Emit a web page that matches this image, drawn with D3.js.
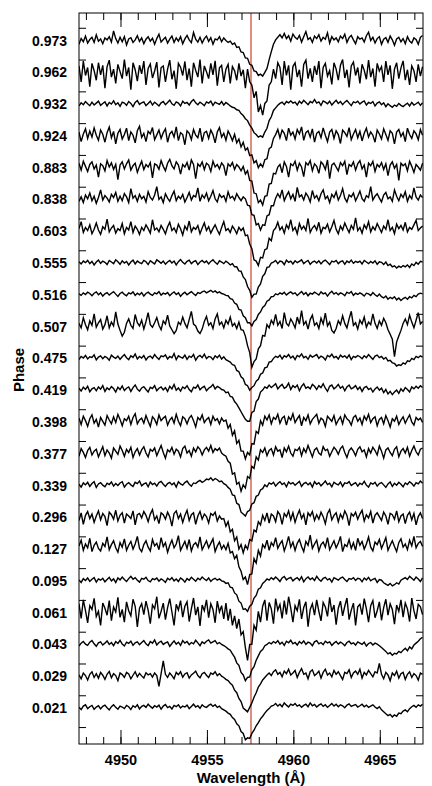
<!DOCTYPE html>
<html>
<head>
<meta charset="utf-8">
<script src="https://cdn.jsdelivr.net/npm/d3@7"></script>
<style>
	body{margin:0;background:#fff;}
	svg{display:block;font-family:"Liberation Sans",Arial,sans-serif;font-weight:bold;}
</style>
</head>
<body>
<div id="chart"></div>
<script>
// phases, top to bottom
var phases = ["0.973","0.962","0.932","0.924","0.883","0.838","0.603","0.555","0.516","0.507","0.475",
	"0.419","0.398","0.377","0.339","0.296","0.127","0.095","0.061","0.043","0.029","0.021"];

// spectra sampled from 4947.6 A every 0.125 A, flux minus continuum in units of 0.001
var waveStart = 4947.6, waveStep = 0.125;
var restWave = 4957.55;
var offsetStep = 0.1;
var xTicks = [4950,4955,4960,4965];

var f0973 = [-12,6,-4,14,-8,3,10,-6,18,-2, 5,-10,8,2,12,-5,30,6,-8,10, -4,12,-14,5,9,-6,2,15,-3,8,
	-10,4,12,-2,7,-12,6,20,-5,3, 10,-8,4,14,-6,8,-2,12,-10,5, 16,2,-7,25,4,-5,10,-8,6,14,
	-3,9,-12,5,2,12,-4,8,0,-6, -2,-12,-8,-22,-20,-36,-38,-55,-56,-75, -78,-96,-98,-110,-106,-112,-100,-88,-60,-35,
	-12,2,10,18,8,22,6,15,-2,20, 10,4,16,-5,12,28,3,9,-6,14, 6,18,-2,10,4,24,-8,12,2,8,
	-4,14,6,20,-6,9,16,2,-10,12, 4,8,-5,15,26,0,10,-8,6,12, -12,4,9,-6,14,2,-15,5,10,-4, 6,-10,12,-2,-8,8,3,-12,10,16];
var f0962 = [20,-30,35,-10,15,-45,28,5,-25,30, -8,22,-50,18,38,-15,10,-35,25,2, -20,40,-12,15,-55,30,8,-28,22,-5,
	35,-40,12,26,-18,4,32,-48,15,20, -30,10,38,-22,5,-52,28,16,-10,34, -25,12,-45,30,6,-15,40,-35,20,2,
	-20,28,-8,36,-42,14,22,-30,10,25, -35,18,5,-25,28,-12,8,-50,10,-30, -40,-80,-60,-125,-105,-135,-98,-90,-40,-30,
	10,-20,30,15,-40,35,-10,22,-55,18, 30,-15,8,-45,25,38,-20,12,-30,20, -8,35,-50,15,28,-12,5,-38,30,10,
	-25,22,40,-18,8,-48,20,32,-10,15, -35,25,6,-22,38,-15,12,-45,28,4, 18,-30,35,-8,22,-52,10,30,-20,14, 36,-25,8,-40,20,5,-30,25,-12,18];
var f0932 = [-6,4,-2,8,1,-5,6,-3,3,9, -4,2,7,-6,5,0,10,-2,4,-7, 6,3,-4,8,2,-8,5,11,-1,4,
	7,-5,2,9,-3,6,0,-6,4,8, -2,5,12,1,-4,7,3,-6,9,2, 5,-3,8,14,4,-2,6,1,-5,7,
	3,9,-4,6,2,-1,8,-3,5,0, -6,-10,-12,-18,-20,-30,-36,-46,-52,-66, -76,-90,-96,-104,-100,-104,-88,-76,-52,-40,
	-20,-12,-4,2,6,-2,8,4,10,3, 6,-3,9,2,12,5,-2,8,4,14, 3,7,-4,10,6,1,9,-3,5,12,
	2,8,-2,6,11,3,-5,7,4,9, 0,6,10,-3,5,2,8,-6,3,7, -2,4,-8,1,-5,-10,-3,-7,2,-4, -8,-2,3,-6,5,-3,1,6,-4,4];
var f0924 = [12,-18,6,22,-8,15,-4,25,2,-14, 18,5,-20,10,28,-6,14,-25,8,20, -10,4,24,-15,12,2,-22,16,30,-5,
	8,-18,14,6,26,-12,3,18,-8,10, 22,-20,6,14,-4,28,-15,10,4,-28, 16,8,-12,20,2,-6,24,-18,10,14,
	-8,18,4,-22,12,26,-4,8,-14,15, 2,-15,5,-22,-10,-35,-20,-45,-38,-62, -60,-85,-78,-100,-88,-98,-75,-72,-40,-35,
	-8,4,20,-6,18,8,-15,24,2,12, -10,20,6,28,-14,10,16,-4,22,-20, 8,14,-6,25,2,-18,12,20,-8,16,
	4,-24,18,10,-2,26,-12,6,20,-6, 14,-16,8,24,-4,12,2,-20,18,6, -10,22,4,-14,16,8,-25,12,20,-2, 10,-18,24,4,-8,16,6,-12,20,2];
var f0883 = [14,-8,20,4,-12,10,18,-4,8,-30, 12,6,-10,22,2,15,-6,10,-38,8, 18,-4,12,24,-8,6,14,-15,4,20,
	-6,10,2,16,-32,12,8,-5,22,4, -10,14,26,6,-4,18,8,-20,10,2, 16,-8,24,10,-35,12,4,18,-6,14,
	8,-12,20,2,10,-4,15,6,-25,12, 4,16,-6,10,2,-10,4,-20,-10,-40, -42,-80,-82,-110,-102,-118,-90,-88,-52,-50,
	-18,-20,2,10,-16,18,4,-30,12,6, 20,-8,14,2,-28,16,8,22,-10,12, 4,-18,18,10,-6,24,-35,8,14,2,
	-10,16,6,20,-22,10,4,18,-8,12, 22,-4,8,-30,14,6,20,-12,10,2, 16,-6,12,-25,8,18,-2,10,-40,14, 6,12,-10,20,4,-15,10,2,-8,14];
var f0838 = [-6,8,-10,14,2,20,-4,10,-12,6, 30,-2,12,4,-8,16,6,22,-6,10, -4,18,8,-10,34,4,12,-6,16,2,
	10,-8,24,6,-2,14,40,0,8,-10, 18,4,-6,12,26,-4,10,2,16,-8, 6,22,-2,12,8,36,-6,14,4,20,
	-4,10,28,2,-8,16,6,12,-6,24, 4,10,-2,18,6,-4,8,2,-18,-20, -48,-50,-80,-76,-96,-80,-82,-52,-48,-20,
	-20,4,18,6,30,-4,12,24,2,16, -6,38,8,14,-2,20,10,-8,28,4, 12,-4,18,30,2,10,-10,16,6,24,
	-2,12,34,4,-8,14,8,20,-4,10, 26,2,-6,12,6,40,-2,10,18,4, -8,14,22,2,8,-6,30,10,-4,16, 6,24,-6,12,2,36,8,-2,14,6];
var f0603 = [8,30,-4,12,2,20,-8,6,26,4, -10,14,6,38,-2,10,18,-6,8,2, 24,-8,12,4,30,-4,16,6,-10,12,
	2,20,8,-6,36,4,10,-2,18,6, -8,14,28,2,10,-4,22,8,-12,16, 4,32,-2,12,6,18,-8,10,26,2,
	14,-6,8,20,4,-10,12,30,2,8, -4,16,6,-8,12,2,10,-14,-12,-40, -55,-90,-94,-108,-82,-84,-58,-55,-22,-30,
	2,10,28,4,14,-6,20,8,36,2, 12,-8,24,6,16,2,40,-4,10,18, 4,28,-6,12,8,22,-2,14,34,6,
	-8,16,4,26,10,-4,18,6,42,2, 12,-6,20,8,30,-2,14,4,24,10, -4,16,6,36,2,12,-8,22,8,18, 4,28,-2,12,6,20,34,2,10,16];
var f0555 = [4,-3,6,1,8,-2,5,-6,3,9, -1,6,2,-5,8,3,-2,10,4,-4, 7,0,5,-6,3,9,-3,6,1,-2,
	8,4,-5,7,2,-3,10,5,-1,6, -4,3,8,0,6,-6,4,11,2,-3, 5,9,-2,4,7,-5,3,8,1,6,
	-3,5,10,2,-4,7,3,-2,6,1, -6,-2,-12,-12,-25,-26,-44,-52,-74,-86, -108,-98,-98,-76,-66,-42,-34,-14,-12,0,
	3,8,-2,6,4,-5,9,2,6,-3, 7,1,5,10,-2,4,8,-4,3,6, 0,7,-3,5,9,2,-5,6,3,8,
	-2,4,7,-4,6,1,9,-1,5,2, 6,-3,8,3,-2,5,0,7,-4,4, 2,-5,3,-8,-4,-12,-9,-16,-10,-14, -8,-12,-6,-14,-3,-8,2,-4,5,3];
var f0516 = [3,-2,6,1,8,4,-3,5,9,0, 6,-4,3,7,-1,5,10,2,-5,4, 8,1,-3,6,3,9,-2,5,0,7,
	-4,4,8,2,-2,6,3,10,-1,5, 2,7,-3,4,9,1,6,-5,3,8, 0,5,10,3,-2,7,4,9,12,6,
	10,14,8,12,6,9,4,2,-2,-3, -12,-14,-26,-30,-46,-48,-66,-72,-88,-88, -98,-84,-78,-62,-54,-40,-34,-20,-16,-6,
	-5,3,0,6,2,8,-1,5,9,3, 6,-2,4,10,1,7,-3,5,2,8, 4,-1,9,3,6,-4,5,11,2,7,
	0,6,3,-3,8,4,10,-2,5,1, 6,2,-4,5,3,-2,7,0,-5,2, -6,-10,-4,-14,-8,-12,-6,-16,-10,-18, -12,-8,-14,-6,-10,-2,-6,2,5,3];
var f0507 = [10,-4,28,6,-10,18,4,40,-2,12, 22,-8,6,34,-4,14,2,46,8,-12, -30,-18,10,24,4,-6,38,12,2,20,
	-8,16,44,6,-2,12,28,4,-10,18, 8,36,2,-10,-22,-12,14,6,30,10, -4,22,48,8,2,-14,-22,-8,16,32,
	4,12,-6,24,40,6,14,-4,20,8, 30,2,10,-6,14,-10,-12,-30,-60,-82, -128,-110,-102,-70,-60,-28,-30,6,-4,20,
	8,38,4,16,-6,44,10,2,24,12, -4,30,8,50,6,16,-8,22,36,4, 12,-6,26,8,42,2,14,-12,-20,-6,
	18,6,34,10,-4,24,48,4,12,-8, 20,8,30,-2,14,6,40,10,-6,18, 4,26,12,-10,-24,-40,-95,-48,-30,-12, 10,24,6,36,14,-4,20,44,8,16];
var f0475 = [-4,6,1,9,-2,5,3,11,-5,4, 8,-1,6,2,-6,10,4,0,7,-3, 5,12,2,-4,8,3,14,-2,6,1,
	9,-5,4,7,0,12,3,-3,8,5, 11,-2,6,2,15,-4,8,4,1,10, -3,7,3,12,-6,5,9,2,13,-1,
	6,4,-4,8,2,10,-2,5,-4,-8, -12,-20,-22,-38,-42,-58,-64,-82,-86,-100, -92,-86,-72,-66,-50,-46,-30,-28,-12,-10,
	0,6,3,10,-2,8,4,12,1,7, -4,9,5,14,2,6,-3,10,4,8, 12,0,7,3,-5,9,5,13,2,6,
	-2,10,4,8,1,11,-4,6,3,9, 5,-1,8,2,12,4,-3,7,10,2, 6,-2,3,-8,-6,-14,-16,-24,-20,-22, -14,-18,-8,-10,0,-4,6,2,8,4];
var f0419 = [6,-3,9,2,12,-5,4,8,-2,10, 3,14,-4,7,1,11,5,-6,9,2, 13,-1,6,10,-4,8,16,3,-3,7,
	11,2,-6,9,5,14,-2,6,10,1, 8,-4,12,4,18,0,7,-3,10,5, 14,2,-5,9,6,16,1,8,12,-2,
	6,10,18,4,12,8,2,0,-8,-6, -20,-22,-36,-44,-56,-68,-80,-92,-98,-98, -70,-66,-36,-28,-6,0,10,6,16,8,
	14,20,4,12,18,6,10,22,2,14, 8,16,-2,12,20,6,10,4,18,12, 2,14,8,20,6,-4,12,16,4,10,
	18,6,12,-2,10,16,4,8,14,2, 10,-4,8,12,2,6,-6,4,10,0, 6,-8,2,-12,-4,-14,-6,0,-10,4, -4,8,2,-6,10,4,12,6,14,8];
var f0398 = [12,-8,18,4,-14,10,22,-4,8,-16, 14,2,-10,20,6,-6,16,-2,24,8, -12,10,4,18,-8,14,26,-6,6,12,
	-4,20,2,-14,16,8,-8,22,4,12, 18,-10,6,14,-4,24,2,-12,16,10, -6,12,20,4,-16,14,6,22,-2,8,
	14,-8,18,4,10,-6,12,2,6,-20, -8,-42,-28,-68,-58,-92,-92,-116,-96,-104, -68,-70,-30,-36,4,-10,18,6,22,-6,
	14,8,24,-4,12,18,-10,16,6,26, -2,10,20,-12,14,4,22,-6,8,16, 24,-4,12,6,-14,18,10,2,20,-8,
	6,16,-6,22,10,4,-10,14,20,2, 12,-8,18,6,24,-2,10,16,-12,8, 14,-6,20,4,-16,10,2,18,-8,6, 16,-4,10,22,0,-10,14,6,12,-2];
var f0377 = [-8,16,4,-12,10,20,-4,8,14,-10, 6,22,-6,12,2,-14,18,8,-2,24, 10,-8,14,4,20,-12,6,16,-4,12,
	22,2,-10,14,8,18,-6,10,26,4, -14,12,6,20,-2,14,8,-10,16,24, 2,10,-8,18,6,22,14,-4,12,20,
	8,26,4,16,10,18,2,-4,-8,-24, -30,-64,-60,-96,-90,-118,-98,-108,-72,-78, -40,-46,-10,-20,12,4,18,-6,10,16,
	-4,22,8,12,-12,18,6,24,2,-8, 14,10,20,-6,16,4,26,8,-10,12, 18,2,-4,22,10,14,-8,6,20,12,
	-2,16,24,4,-12,10,18,8,-6,14, 22,6,12,-10,16,2,20,10,-4,24, 8,-14,12,18,4,-6,14,22,-10,8, 16,2,20,-8,10,24,6,-4,14,18];
var f0339 = [4,-5,8,2,10,-3,6,12,-6,5, 9,1,-4,7,3,11,-2,6,0,8, 12,-5,4,9,2,-3,10,6,14,-1,
	5,8,-4,11,3,7,-2,9,13,4, -3,6,10,2,8,-5,12,5,1,9, 14,4,-2,8,6,12,16,10,14,20,
	18,24,16,22,18,12,14,6,2,-6, -12,-30,-32,-56,-60,-84,-90,-96,-82,-78, -58,-54,-34,-30,-14,-10,2,-4,8,4,
	10,-2,6,12,3,8,-4,11,5,9, 1,7,13,-3,6,10,2,8,-5,12, 4,9,-1,6,14,3,7,-4,10,5,
	2,11,-3,8,6,12,0,5,9,-2, 7,3,13,1,-5,8,4,10,-2,6, 9,2,-6,5,11,-3,7,1,10,4, -4,8,3,12,6,-2,9,5,14,7];
var f0296 = [-10,14,-22,6,18,-4,10,-16,4,20, -8,12,2,-26,16,8,-6,22,-12,6, 14,-18,10,4,-4,20,-24,8,12,-2,
	18,6,-14,10,24,-8,4,-20,14,8, -6,16,2,-28,12,20,-4,10,-16,6, 22,-10,8,14,-22,4,18,-6,10,2,
	-18,12,6,16,-12,4,-6,-4,-28,-14, -46,-38,-74,-62,-100,-86,-112,-88,-100,-70, -74,-40,-46,-14,-24,6,-10,14,-18,10,
	4,-14,18,8,-22,12,2,20,-8,14, -16,6,22,-4,10,-24,14,4,18,-10, 8,-6,16,2,-20,12,24,-8,6,14,
	-14,10,-4,20,6,-26,12,4,16,-6, 10,22,-12,8,-2,18,-18,6,14,2, -10,16,4,-22,12,8,-6,20,-14,4, 10,-20,6,16,-8,12,-24,2,14,-4];
var f0127 = [10,28,-4,16,4,34,-8,12,22,2, -6,18,8,38,-2,14,26,4,-10,20, 6,32,-4,12,24,0,16,40,2,-8,
	14,26,6,-6,30,10,18,-2,36,8, 20,-10,12,28,4,16,42,-4,10,24, 2,30,-6,14,20,6,38,-2,12,26,
	4,18,32,-8,10,22,0,12,-2,18, -12,-8,-30,-20,-56,-70,-96,-88,-112,-80, -78,-30,-44,-4,-22,14,4,28,-4,20,
	10,36,2,16,26,-6,14,40,6,22, -4,18,30,8,-8,24,12,44,2,16, 28,-6,14,22,6,36,-2,12,26,4,
	18,40,-8,14,8,30,2,20,-4,34, 12,24,0,16,38,6,-6,22,14,30, 2,18,36,-4,12,26,8,-8,20,32, 6,16,-2,28,10,40,4,18,24,8];
var f0095 = [3,-5,7,1,9,-2,5,10,-4,6, 2,8,-3,4,11,0,6,-5,9,3, 12,4,-2,7,14,5,10,2,-4,8,
	5,11,1,-3,7,4,9,-1,6,2, -5,8,3,10,0,6,-2,9,4,-4, 7,2,11,5,-1,8,3,12,6,1,
	9,-2,5,8,2,6,0,-2,-8,-6, -20,-22,-38,-44,-64,-70,-90,-88,-96,-80, -74,-54,-46,-26,-22,-8,-2,6,2,10,
	4,12,6,-2,9,14,3,8,11,0, 6,10,2,13,-3,7,12,4,9,1, 14,5,-1,8,11,3,7,-4,10,6,
	2,9,12,4,-2,7,5,10,1,8, 6,-3,9,3,11,0,5,8,-5,4, 2,-6,-10,-14,-8,-16,-12,-6,-10,2, 6,10,4,14,8,2,12,6,-2,9];
var f0061 = [28,-18,40,6,-32,22,10,45,-12,4, -40,30,14,-8,38,-25,18,2,48,-15, 10,-30,34,6,-10,42,20,-45,14,28,
	-6,36,8,-35,24,12,50,-18,4,30, -22,16,44,2,-40,26,8,38,-14,20, 34,-28,12,46,-8,18,-42,24,6,40,
	-16,28,10,-32,36,2,22,-20,30,-25, 12,-40,-10,-50,-20,-70,-60,-110,-150,-100, -100,-40,-55,4,-30,20,40,-25,32,12,
	-35,44,8,26,-18,38,-6,50,14,-30, 22,6,42,-20,16,34,-44,10,28,-8, 40,4,-26,32,18,-12,48,2,24,-38,
	14,36,-10,20,46,-22,8,30,-40,18, 26,-6,44,12,-30,22,38,-16,6,34, -24,16,42,-8,28,10,-36,24,4,40, -14,30,12,-28,46,6,-20,26,18,-6];
var f0043 = [-5,4,9,1,-3,7,12,2,-6,5, 8,-2,4,11,0,6,-4,9,3,13, 1,-5,7,3,10,-3,5,8,-1,6,
	12,2,-4,9,4,14,-2,6,10,0, 5,8,-6,3,11,1,7,-3,12,4, 9,-1,6,2,13,5,-4,8,3,10,
	14,4,8,12,2,6,0,-4,-8,-14, -18,-30,-40,-58,-66,-88,-96,-114,-104,-102, -80,-70,-50,-36,-22,-16,-4,0,6,2,
	9,4,12,1,7,-3,10,5,13,2, 6,-2,9,3,11,0,7,4,-4,8, 12,2,6,-1,10,5,8,-3,4,9,
	1,7,3,-4,6,10,2,5,-2,8, 4,0,7,-5,3,6,-2,4,1,-4, -10,-16,-22,-30,-26,-34,-28,-30,-22,-26, -18,-12,-20,-8,-14,-2,4,10,18,22];
var f0029 = [4,-8,10,2,-12,6,14,-4,8,-6, 12,3,-10,6,15,-5,8,2,-14,10, 5,-4,12,7,-8,3,14,-2,9,1,
	-6,11,4,8,-3,10,2,-32,8,48, 6,-4,10,2,-8,12,5,14,-3,7, 11,-6,4,9,16,2,-5,8,12,3,
	-4,10,6,14,2,8,0,-4,-10,-14, -22,-28,-44,-52,-70,-80,-100,-106,-112,-98, -84,-66,-52,-34,-24,-12,-4,4,10,2,
	14,20,6,12,-2,16,8,22,4,10, 18,-4,12,24,6,10,-8,14,20,2, 8,16,-6,12,22,4,10,-2,18,6,
	14,2,-10,12,8,20,-4,10,16,6, 22,-6,12,4,18,8,-2,14,10,40, 6,-8,12,4,-14,10,2,16,-6,8, 12,-10,6,14,-4,8,2,-12,10,6];
var f0021 = [2,-5,6,10,-2,4,8,-4,3,7, -3,5,9,1,-6,4,10,2,-4,6, 3,-2,8,4,-5,7,2,10,-3,5,
	8,2,12,5,-1,7,3,9,-4,6, 11,1,5,-3,8,4,10,0,6,3, 9,-2,5,12,3,7,-1,10,4,2,
	8,12,5,10,2,6,-2,-6,-10,-16, -20,-30,-36,-50,-56,-74,-80,-100,-94,-96, -80,-70,-56,-46,-34,-26,-16,-8,-2,6,
	8,14,6,12,4,16,9,3,12,8, 14,6,10,2,8,12,4,16,7,11, 3,9,13,5,10,2,8,14,6,12,
	4,10,7,1,9,13,5,8,11,3, 7,12,4,9,2,6,10,3,-2,4, -6,-12,-18,-24,-20,-28,-22,-26,-16,-18, -10,-6,-12,-2,4,8,2,10,6,12];

var spectra = [f0973,f0962,f0932,f0924,f0883,f0838,f0603,f0555,f0516,f0507,f0475,
	f0419,f0398,f0377,f0339,f0296,f0127,f0095,f0061,f0043,f0029,f0021];

var width = 432, height = 786;
var pLeft = 79, pRight = 423, pTop = 13, pBottom = 744;

var svg = d3.select("#chart").append("svg")
	.attr("width", width)
	.attr("height", height);

var x = d3.scaleLinear().domain([4947.6, 4967.5]).range([pLeft, pRight]);
var y = d3.scaleLinear().domain([0.8867, 3.1865]).range([pBottom, pTop]);

svg.append("clipPath").attr("id","clip")
	.append("rect").attr("x",pLeft).attr("y",pTop).attr("width",pRight-pLeft).attr("height",pBottom-pTop);

// red rest wavelength line
svg.append("line")
	.attr("x1", x(restWave)).attr("x2", x(restWave))
	.attr("y1", pTop).attr("y2", pBottom)
	.attr("stroke", "#c8402c")
	.attr("stroke-width", 1.2);

var line = d3.line()
	.x(function(d, k){ return x(waveStart + waveStep*k); })
	.y(function(d){ return y(d); });

var n = spectra.length;
var g = svg.append("g").attr("clip-path","url(#clip)");
spectra.forEach(function(s, j){
	var level = 1 + offsetStep*(n-1-j);
	g.append("path")
		.datum(s.map(function(v){ return level + v/1000; }))
		.attr("d", line)
		.attr("fill", "none")
		.attr("stroke", "#000")
		.attr("stroke-width", 1.4);
});

// phase labels
svg.selectAll(".phase").data(phases).enter().append("text")
	.attr("class","phase")
	.attr("x", 67)
	.attr("y", function(d, j){ return y(1 + offsetStep*(n-1-j)); })
	.attr("dy", "0.36em")
	.attr("text-anchor", "end")
	.attr("font-size", "14px")
	.text(function(d){ return d; });

// axes, ticks pointing inward
var minor = d3.range(4948, 4968, 1);
function noLabel(){ return ""; }
svg.append("g").attr("transform","translate(0,"+pBottom+")")
	.call(d3.axisBottom(x).tickValues(minor).tickSize(-7).tickFormat(noLabel));
svg.append("g").attr("transform","translate(0,"+pBottom+")")
	.call(d3.axisBottom(x).tickValues(xTicks).tickSize(-14).tickPadding(10.7).tickFormat(d3.format("d")))
	.selectAll("text").attr("font-size","14.5px");
svg.append("g").attr("transform","translate(0,"+pTop+")")
	.call(d3.axisTop(x).tickValues(minor).tickSize(-7).tickFormat(noLabel));
svg.append("g").attr("transform","translate(0,"+pTop+")")
	.call(d3.axisTop(x).tickValues(xTicks).tickSize(-14).tickFormat(noLabel));

var yTicks = d3.range(0, 23).map(function(k){ return 0.94 + offsetStep*k; })
	.filter(function(v){ return v < 3.18; });
svg.append("g").attr("transform","translate("+pLeft+",0)")
	.call(d3.axisLeft(y).tickValues(yTicks).tickSize(-7).tickFormat(noLabel));
svg.append("g").attr("transform","translate("+pRight+",0)")
	.call(d3.axisRight(y).tickValues(yTicks).tickSize(-7).tickFormat(noLabel));

svg.selectAll(".domain").remove();
svg.selectAll(".tick line").attr("stroke","#000");
svg.selectAll(".tick text").attr("fill","#000")
	.attr("font-family","Liberation Sans, Arial, sans-serif").attr("font-weight","bold");

// frame
svg.append("rect")
	.attr("x", pLeft).attr("y", pTop)
	.attr("width", pRight-pLeft).attr("height", pBottom-pTop)
	.attr("fill","none").attr("stroke","#000").attr("stroke-width",1);

// axis titles
svg.append("text")
	.attr("x", (pLeft+pRight)/2).attr("y", 783)
	.attr("text-anchor","middle")
	.attr("font-size","15px")
	.text("Wavelength (Å)");
svg.append("text")
	.attr("transform","translate(24,370) rotate(-90)")
	.attr("text-anchor","middle")
	.attr("font-size","15px")
	.text("Phase");
</script>
</body>
</html>
